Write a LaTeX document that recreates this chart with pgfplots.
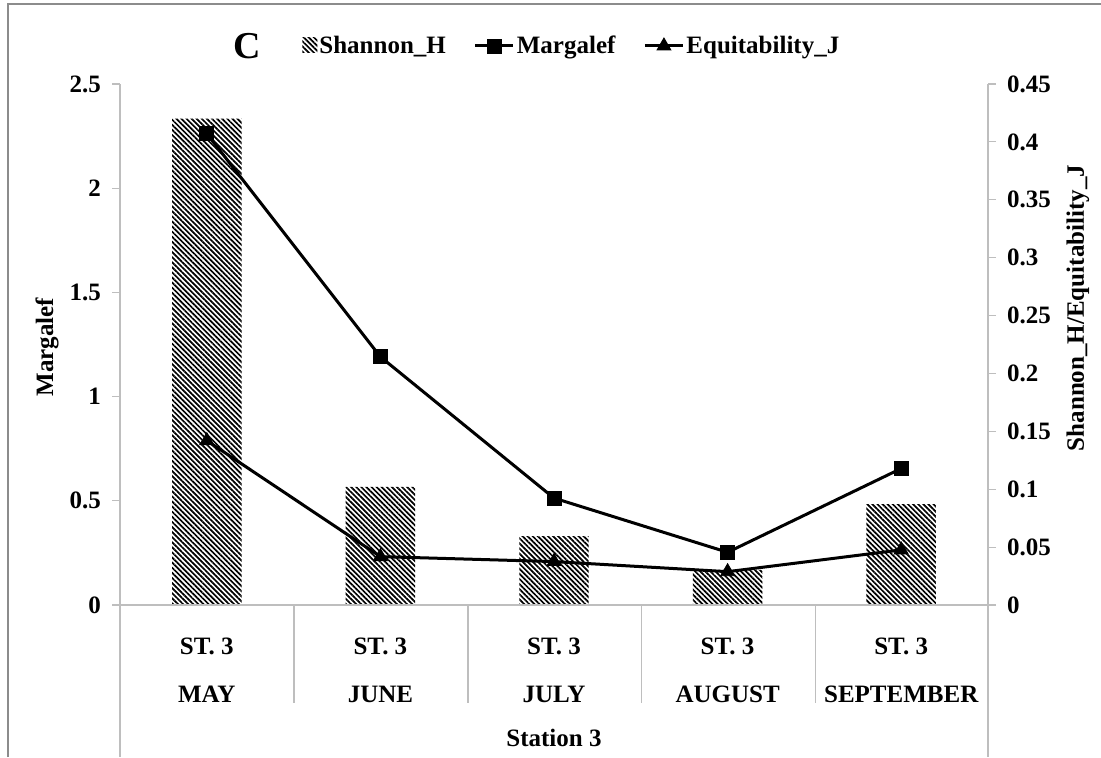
\documentclass[border=0pt]{standalone}
\usepackage{fontspec}
\setmainfont{Liberation Serif}
\usepackage{pgfplots}
\pgfplotsset{compat=1.18}
\usetikzlibrary{patterns.meta}
\definecolor{axgray}{RGB}{190,190,190}
\definecolor{framegray}{RGB}{140,140,140}
\newcommand{\tf}{\fontsize{12.5}{15}\selectfont\bfseries}
\begin{document}
\begin{tikzpicture}
\path[use as bounding box] (0,0) rectangle (550.5pt,378.5pt);
% outer frame
\draw[framegray, line width=1pt] (4pt,0pt) -- (4pt,376.5pt) -- (550.5pt,376.5pt);
% right axis: Shannon_H bars + Equitability_J
\begin{axis}[
  at={(60pt,76pt)}, anchor=south west, scale only axis,
  width=434pt, height=260.5pt,
  xmin=-0.5, xmax=4.5, ymin=0, ymax=0.45,
  axis x line=none, axis y line*=right,
  ytick={0,0.05,0.1,0.15,0.2,0.25,0.3,0.35,0.4,0.45},
  yticklabels={0,0.05,0.1,0.15,0.2,0.25,0.3,0.35,0.4,0.45},
  tick align=outside, major tick length=4pt,
  axis line style={axgray, line width=0.6pt},
  tick style={axgray, line width=0.6pt},
  yticklabel style={font=\tf, xshift=2pt},
  clip=false,
]
\addplot[ybar, bar width=0.4, draw=none,
  pattern={Lines[angle=-45,distance=1.8pt,line width=0.85pt]}]
  coordinates {(0,0.420) (1,0.102) (2,0.0594) (3,0.0303) (4,0.0871)};
\addplot[black, line width=1.5pt, mark=triangle*, mark size=4pt, mark options={line width=0.4pt}]
  coordinates {(0,0.142) (1,0.0418) (2,0.0375) (3,0.0288) (4,0.0476)};
\end{axis}
% left axis: Margalef
\begin{axis}[
  at={(60pt,76pt)}, anchor=south west, scale only axis,
  width=434pt, height=260.5pt,
  xmin=-0.5, xmax=4.5, ymin=0, ymax=2.5,
  axis y line*=left, axis x line*=bottom,
  ytick={0,0.5,1,1.5,2,2.5},
  yticklabels={0,0.5,1,1.5,2,2.5},
  xtick={0,1,2,3,4},
  xticklabels={{ST. 3\\[9pt]MAY},{ST. 3\\[9pt]JUNE},{ST. 3\\[9pt]JULY},{ST. 3\\[9pt]AUGUST},{ST. 3\\[9pt]SEPTEMBER}},
  xticklabel style={font=\tf, align=center, yshift=-9pt},
  x tick style={draw=none},
  tick align=outside, major tick length=4pt,
  axis line style={axgray, line width=0.6pt},
  y tick style={axgray, line width=0.6pt},
  yticklabel style={font=\tf, xshift=-2pt},
  clip=false,
  legend columns=3,
  legend style={draw=none, fill=none, font=\tf, inner sep=0pt,
    at={(0.2097,1.073)}, anchor=west,
    nodes={inner sep=1pt},
    /tikz/every even column/.append style={column sep=13pt},
    legend cell align=left},
  legend image code/.code={\draw[mark repeat=2,mark phase=2] plot coordinates {(0pt,0pt) (9.5pt,0pt) (19pt,0pt)};},
]
\addlegendimage{draw=none, legend image code/.code={\fill[pattern={Lines[angle=-45,distance=1.8pt,line width=0.85pt]}] (0pt,-3.5pt) rectangle (7.5pt,4pt);}}
\addlegendentry{Shannon\_H}
\addplot[black, line width=1.5pt, mark=square*, mark size=3.5pt, mark options={line width=0.4pt}]
  coordinates {(0,2.262) (1,1.191) (2,0.513) (3,0.253) (4,0.655)};
\addlegendentry{Margalef}
\addlegendimage{black, line width=1.5pt, mark=triangle*, mark size=4pt, mark options={line width=0.4pt}}
\addlegendentry{Equitability\_J}
\end{axis}
% category separators
\foreach \xx in {147,234,320.8,407.7} {\draw[axgray, line width=0.6pt] (\xx pt,76pt) -- (\xx pt,27pt);}
\draw[axgray, line width=0.6pt] (60pt,76pt) -- (60pt,0pt);
\draw[axgray, line width=0.6pt] (494pt,76pt) -- (494pt,0pt);
% labels
\node[font=\fontsize{19}{23}\selectfont\bfseries] at (123.5pt,355.5pt) {C};
\node[rotate=90, font=\tf] at (23.5pt,205pt) {Margalef};
\node[rotate=90, font=\tf] at (539pt,224.5pt) {Shannon\_H/Equitability\_J};
\node[font=\tf] at (277pt,9.5pt) {Station 3};
\end{tikzpicture}
\end{document}
